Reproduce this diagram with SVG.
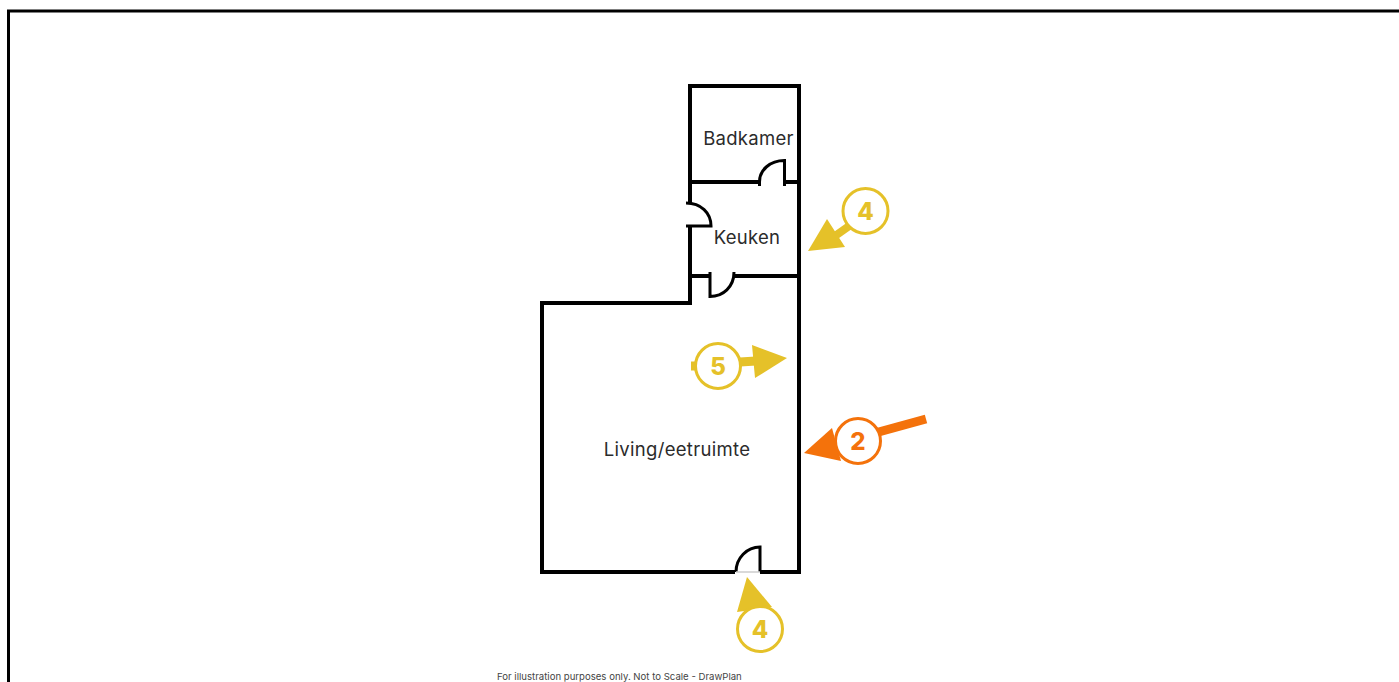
<svg xmlns="http://www.w3.org/2000/svg" width="1399" height="682" viewBox="0 0 1399 682">
<style>
.wall{fill:none;stroke:#000;stroke-width:4;stroke-linecap:butt;stroke-linejoin:miter}
.door{fill:none;stroke:#000;stroke-width:3;stroke-linecap:butt}
.room{font-family:Inter,"Liberation Sans",sans-serif;font-size:18.500px;letter-spacing:.3px;fill:#2b2b2b;text-anchor:middle}
.note{font-family:Inter,"Liberation Sans",sans-serif;font-size:9.600px;fill:#444}
.y{fill:#e5c129}.ys{fill:none;stroke:#e5c129}
.o{fill:#f4720b}.os{fill:none;stroke:#f4720b}
.ring{fill:#fff;stroke-width:3}
.num{font-family:Inter,"Liberation Sans",sans-serif;font-size:24px;font-weight:800;text-anchor:middle}
</style>
<rect width="1399" height="682" fill="#fff"/>
<path id="frame" d="M8.500 682V11H1399" fill="none" stroke="#000" stroke-width="3"/>
<g id="walls">
<path class="wall" d="M759 182H690V86H799V182H784"/>
<path class="wall" d="M690 182V203M690 226V303H542V572H735M760 572H799V182"/>
<path class="wall" d="M690 276H710M734 276H799"/>
</g>
<g id="doors">
<path class="door" d="M759.500 186V182C759.500 170 770 160.500 784.500 160.500V186"/>
<path class="door" d="M686 203C701 203 711 213 711 226H686"/>
<path class="door" d="M710 272V296.500C723 296.500 734 287 734 272"/>
<path class="door" d="M736 572C736 558 747 547 760 547V572"/>
<path d="M736 572H760" stroke="#ccc" stroke-width="1.500" fill="none"/>
</g>
<g id="room-badkamer"><text class="room" x="748.500" y="145">Badkamer</text></g>
<g id="room-keuken"><text class="room" x="747" y="244">Keuken</text></g>
<g id="room-living"><text class="room" x="677" y="456">Living/eetruimte</text></g>
<text class="note" x="497" y="680">For illustration purposes only. Not to Scale - DrawPlan</text>
<g id="connectors">
<g id="arrow-top-4">
<path class="ys" stroke-width="8" d="M835 236L852 224"/>
<polygon class="y" points="808,251 827,219 845,247"/>
</g>
<g id="arrow-5">
<path class="ys" stroke-width="9" d="M691 366H700M740 362L756 361"/>
<polygon class="y" points="787,358 752,345 755,378"/>
</g>
<g id="arrow-2">
<path class="os" stroke-width="9" d="M875 433L926 419"/>
<polygon class="o" points="804,453 832,428 841,461"/>
</g>
<g id="arrow-bottom-4">
<polygon class="y" points="747,577 737,612 772,607"/>
</g>
</g>
<g id="marker-top-4"><circle class="ys ring" cx="865.500" cy="211" r="22.500"/><text class="num" x="865.500" y="220" fill="#e5c129">4</text></g>
<g id="marker-5"><circle class="ys ring" cx="718" cy="366" r="22.500"/><text class="num" x="718" y="375" fill="#e5c129">5</text></g>
<g id="marker-2"><circle class="os ring" cx="858" cy="441" r="22.500"/><text class="num" x="858" y="450" fill="#f4720b">2</text></g>
<g id="marker-bottom-4"><circle class="ys ring" cx="760" cy="629" r="22.500"/><text class="num" x="760" y="638" fill="#e5c129">4</text></g>
</svg>
